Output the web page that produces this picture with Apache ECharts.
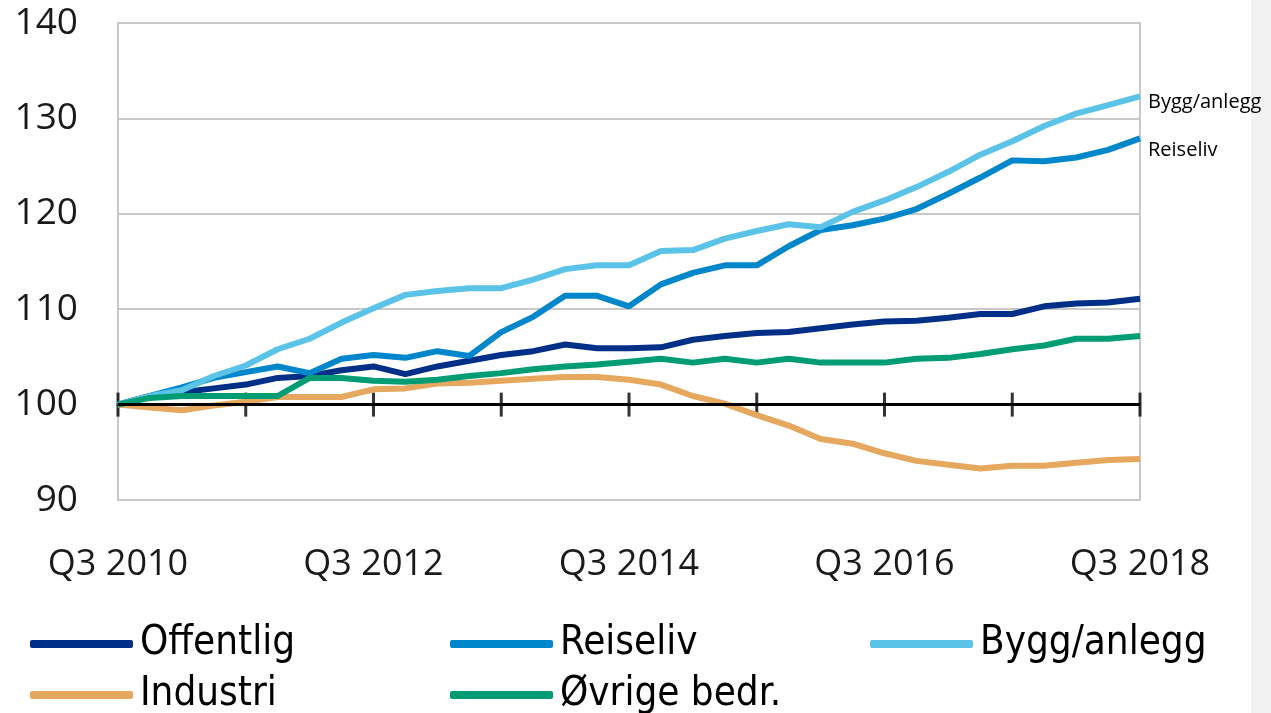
<!DOCTYPE html>
<html>
<head>
<meta charset="utf-8">
<title>Lønnsvekst etter næring</title>
<script src="https://cdn.jsdelivr.net/npm/echarts@6/dist/echarts.min.js"></script>
<style>
  html, body { margin: 0; padding: 0; background: #fff; }
  #chart { width: 1271px; height: 713px; }
</style>
</head>
<body>
<div id="chart"></div>
<script>
// quarters Q3 2010 .. Q3 2018
var quarters = [
  'Q3 2010','Q4 2010','Q1 2011','Q2 2011','Q3 2011','Q4 2011','Q1 2012','Q2 2012',
  'Q3 2012','Q4 2012','Q1 2013','Q2 2013','Q3 2013','Q4 2013','Q1 2014','Q2 2014',
  'Q3 2014','Q4 2014','Q1 2015','Q2 2015','Q3 2015','Q4 2015','Q1 2016','Q2 2016',
  'Q3 2016','Q4 2016','Q1 2017','Q2 2017','Q3 2017','Q4 2017','Q1 2018','Q2 2018',
  'Q3 2018'
];

var offentlig = [100.0, 100.9, 101.3, 101.7, 102.1, 102.8, 103.0, 103.6, 104.0, 103.2, 104.0,
  104.6, 105.2, 105.6, 106.3, 105.9, 105.9, 106.0, 106.8, 107.2, 107.5, 107.6, 108.0, 108.4,
  108.7, 108.8, 109.1, 109.5, 109.5, 110.3, 110.6, 110.7, 111.1];

var reiseliv = [100.0, 100.9, 101.8, 102.8, 103.4, 104.0, 103.3, 104.8, 105.2, 104.9, 105.6,
  105.1, 107.6, 109.2, 111.4, 111.4, 110.3, 112.6, 113.8, 114.6, 114.6, 116.6, 118.3, 118.8,
  119.5, 120.5, 122.1, 123.8, 125.6, 125.5, 125.9, 126.7, 127.9];

var bygg = [100.0, 100.9, 101.5, 103.0, 104.1, 105.8, 106.9, 108.6, 110.1, 111.5, 111.9,
  112.2, 112.2, 113.1, 114.2, 114.6, 114.6, 116.1, 116.2, 117.4, 118.2, 118.9, 118.6, 120.2,
  121.4, 122.8, 124.4, 126.2, 127.6, 129.2, 130.5, 131.4, 132.3];

var industri = [100.0, 99.7, 99.4, 99.9, 100.3, 100.8, 100.8, 100.8, 101.6, 101.7, 102.2,
  102.3, 102.5, 102.7, 102.9, 102.9, 102.6, 102.1, 100.9, 100.1, 98.9, 97.8, 96.4, 95.9,
  94.9, 94.1, 93.7, 93.3, 93.6, 93.6, 93.9, 94.2, 94.3];

var ovrige = [100.0, 100.7, 100.9, 100.9, 100.9, 100.9, 102.8, 102.8, 102.5, 102.4, 102.6,
  103.0, 103.3, 103.7, 104.0, 104.2, 104.5, 104.8, 104.4, 104.8, 104.4, 104.8, 104.4, 104.4,
  104.4, 104.8, 104.9, 105.3, 105.8, 106.2, 106.9, 106.9, 107.2];

// yearly ticks on the 100 line
var yearTicks = [0, 4, 8, 12, 16, 20, 24, 28, 32];

var chart = echarts.init(document.getElementById('chart'));

var font = '"Open Sans", "Noto Sans", sans-serif';
var legendFont = '"Liberation Sans Narrow", "DejaVu Sans Condensed", "Noto Sans", sans-serif';

function lineSeries(name, data, color, withLabel, labelOffset) {
  var s = {
    name: name,
    type: 'line',
    data: data,
    symbol: 'none',
    lineStyle: { color: color, width: 6 },
    itemStyle: { color: color },
    z: 3
  };
  if (withLabel) {
    s.endLabel = {
      show: true,
      formatter: '{a}',
      fontFamily: font,
      fontSize: 20,
      color: '#000',
      distance: 8,
      offset: labelOffset
    };
  }
  return s;
}

// one legend per entry, laid out in 3 columns x 2 rows
function legendItem(name, left, top) {
  return {
    left: left,
    top: top,
    icon: 'roundRect',
    itemWidth: 103,
    itemHeight: 8,
    data: [name],
    textStyle: {
      fontFamily: legendFont,
      fontSize: 40,
      color: '#000',
      padding: [0, 0, 0, 2]
    }
  };
}

var option = {
  animation: false,
  backgroundColor: '#fff',
  textStyle: { fontFamily: font },
  graphic: [{
    type: 'rect',
    right: 0,
    top: 0,
    shape: { width: 20, height: 713 },
    style: { fill: '#f2f2f2' },
    silent: true,
    z: -10
  }],
  grid: {
    left: 118,
    right: 131,
    top: 23,
    bottom: 213,
    show: true,
    borderColor: '#c8c8c8',
    borderWidth: 2
  },
  legend: [
    legendItem('Offentlig', 25, 619),
    legendItem('Reiseliv', 445, 619),
    legendItem('Bygg/anlegg', 865, 619),
    legendItem('Industri', 25, 670),
    legendItem('Øvrige bedr.', 445, 670)
  ],
  xAxis: {
    type: 'category',
    data: quarters,
    boundaryGap: false,
    axisLine: { show: false },
    axisTick: { show: false },
    splitLine: { show: false },
    axisLabel: {
      interval: 7,
      margin: 47,
      fontSize: 36,
      color: '#1a1a1a',
      fontFamily: font
    }
  },
  yAxis: {
    type: 'value',
    min: 90,
    max: 140,
    interval: 10,
    axisLine: { show: false },
    axisTick: { show: false },
    axisLabel: {
      margin: 40,
      fontSize: 37,
      color: '#1a1a1a',
      fontFamily: font
    },
    splitLine: { lineStyle: { color: '#c8c8c8', width: 2 } }
  },
  series: [
    {
      name: 'baseline',
      type: 'scatter',
      data: yearTicks.map(function (i) { return [i, 100]; }),
      symbol: 'rect',
      symbolSize: [3, 24],
      itemStyle: { color: '#000' },
      silent: true,
      z: 2,
      markLine: {
        silent: true,
        symbol: ['none', 'none'],
        label: { show: false },
        lineStyle: { color: '#000', width: 3, type: 'solid' },
        data: [{ yAxis: 100 }]
      }
    },
    lineSeries('Offentlig', offentlig, '#002f87', false),
    lineSeries('Reiseliv', reiseliv, '#0086cb', true, [0, 12]),
    lineSeries('Bygg/anlegg', bygg, '#5bc2e8', true, [0, 6]),
    lineSeries('Industri', industri, '#e6a75e', false),
    lineSeries('Øvrige bedr.', ovrige, '#009d74', false)
  ]
};

chart.setOption(option);
</script>
</body>
</html>
